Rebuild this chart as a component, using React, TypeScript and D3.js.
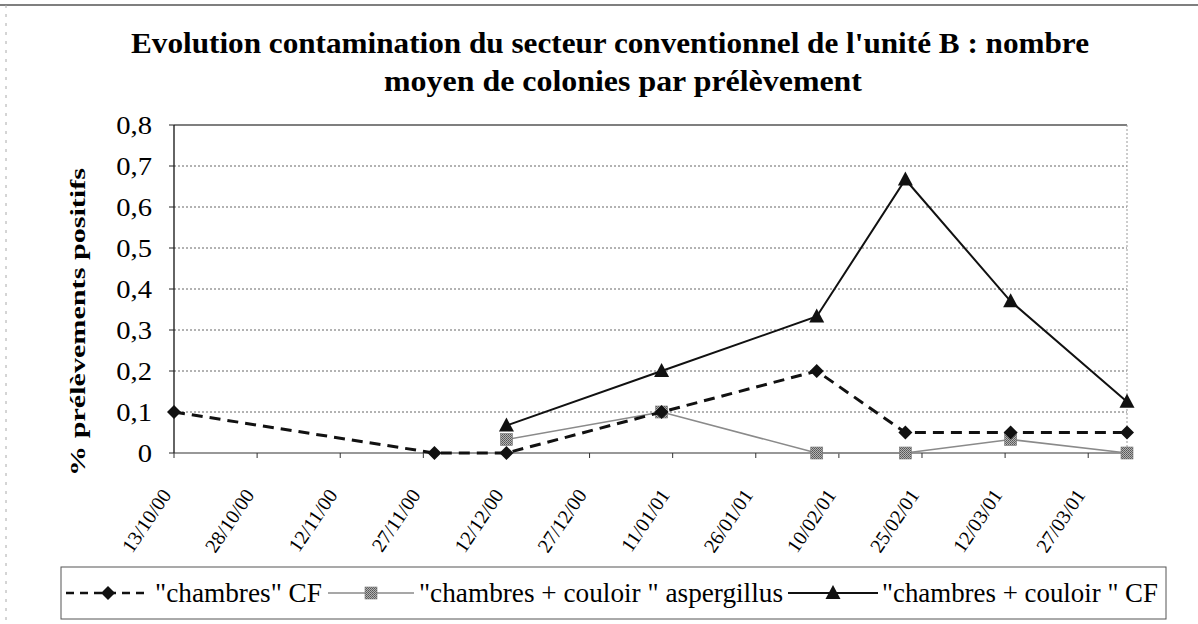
import * as d3 from "d3";

// dates de prélèvement (jj/mm/aa)
const sampleDates = ["13/10/00", "29/11/00", "12/12/00", "09/01/01", "06/02/01", "22/02/01", "13/03/01", "03/04/01"];
const chambresCF = [0.1, 0, 0, 0.1, 0.2, 0.05, 0.05, 0.05];
const couloirAspergillus = [null, null, 0.033, 0.1, 0, 0, 0.033, 0];
const couloirCF = [null, null, 0.067, 0.2, 0.333, 0.667, 0.37, 0.125];

const xTickLabels = ["13/10/00", "28/10/00", "12/11/00", "27/11/00", "12/12/00", "27/12/00", "11/01/01", "26/01/01", "10/02/01", "25/02/01", "12/03/01", "27/03/01"];
const yTicks = [0, 0.1, 0.2, 0.3, 0.4, 0.5, 0.6, 0.7, 0.8];
const seriesNames = ['"chambres" CF', '"chambres  + couloir " aspergillus', '"chambres  + couloir " CF'];

const titleLines = ["Evolution contamination du secteur conventionnel de l'unité B : nombre", "moyen de colonies par prélèvement"];
const yTitle = "% prélèvements positifs";

const W = 1198;
const H = 624;
const FONT = '"Liberation Serif", "Times New Roman", serif';

const parse = d3.utcParse("%d/%m/%y");
const dates = sampleDates.map((s) => parse(s) as Date);

const x = d3.scaleUtc().domain([dates[0], dates[dates.length - 1]]).range([174, 1127]);
const y = d3.scaleLinear().domain([0, 0.8]).range([453, 125]);

type Pt = { d: Date; v: number | null };
const toPts = (vals: (number | null)[]): Pt[] => vals.map((v, i) => ({ d: dates[i], v }));

const line = d3
  .line<Pt>()
  .defined((p) => p.v != null)
  .x((p) => x(p.d))
  .y((p) => y(p.v as number));

const diamond = "M0,-7L7,0L0,7L-7,0Z";
const triangle = "M0,-8L7.5,6L-7.5,6Z";

const fmt = (v: number) => (v === 0 ? "0" : d3.format(".1f")(v).replace(".", ","));

function Square({ cx, cy }: { cx: number; cy: number }) {
  return <rect x={cx - 6} y={cy - 6} width={12} height={12} fill="url(#dither)" stroke="#777" strokeWidth={0.6} />;
}

export default function App() {
  const s1 = toPts(chambresCF);
  const s2 = toPts(couloirAspergillus);
  const s3 = toPts(couloirCF);
  const [x0, x1] = x.range();

  return (
    <svg width={W} height={H} style={{ display: "block", position: "absolute", left: 0, top: 0, background: "#fff" }}>
      <defs>
        <pattern id="dither" width="2" height="2" patternUnits="userSpaceOnUse">
          <rect width="2" height="2" fill="#b4b4b4" />
          <rect width="1" height="1" fill="#555" />
          <rect x="1" y="1" width="1" height="1" fill="#666" />
        </pattern>
      </defs>

      {/* cadre du graphique (scan) */}
      <line x1={0} x2={W} y1={5} y2={5} stroke="#555" strokeWidth={1.5} />
      <line x1={6} x2={6} y1={5} y2={H} stroke="#aaa" strokeWidth={1} strokeDasharray="3,6" />

      {/* titre */}
      <text x={131} y={53} fontFamily={FONT} fontWeight="bold" fontSize={30} textLength={958} lengthAdjust="spacingAndGlyphs">
        {titleLines[0]}
      </text>
      <text x={384} y={91} fontFamily={FONT} fontWeight="bold" fontSize={30} textLength={478} lengthAdjust="spacingAndGlyphs">
        {titleLines[1]}
      </text>

      {/* grille */}
      {yTicks.slice(1, -1).map((t) => (
        <line key={t} x1={x0} x2={x1} y1={y(t)} y2={y(t)} stroke="#666" strokeWidth={1} strokeDasharray="2,2" />
      ))}
      <line x1={x0} x2={x1} y1={y(0.8)} y2={y(0.8)} stroke="#555" strokeWidth={1.3} />
      <line x1={x1} x2={x1} y1={y(0.8)} y2={y(0)} stroke="#999" strokeWidth={1} strokeDasharray="2,2" />

      {/* axe Y */}
      <line x1={x0} x2={x0} y1={y(0.8)} y2={y(0)} stroke="#111" strokeWidth={1.3} />
      {yTicks.map((t) => (
        <g key={t}>
          <line x1={x0 - 5} x2={x0} y1={y(t)} y2={y(t)} stroke="#222" />
          <text
            x={152}
            y={y(t) + 9}
            textAnchor="end"
            fontFamily={FONT}
            fontSize={26}
            transform={`translate(152,0) scale(1.1,1) translate(-152,0)`}
          >
            {fmt(t)}
          </text>
        </g>
      ))}
      <text
        transform={`translate(85,${322}) rotate(-90)`}
        textAnchor="middle"
        fontFamily={FONT}
        fontWeight="bold"
        fontSize={22}
        textLength={308}
        lengthAdjust="spacingAndGlyphs"
      >
        {yTitle}
      </text>

      {/* axe X */}
      <line x1={x0} x2={x1} y1={y(0)} y2={y(0)} stroke="#333" strokeWidth={1.2} />
      {xTickLabels.map((lab) => {
        const tx = x(parse(lab) as Date);
        return (
          <g key={lab}>
            <line x1={tx} x2={tx} y1={y(0)} y2={y(0) + 5} stroke="#333" />
            <text
              transform={`translate(${tx - 2},${495}) rotate(-56)`}
              textAnchor="end"
              fontFamily={FONT}
              fontSize={20}
            >
              {lab}
            </text>
          </g>
        );
      })}

      {/* séries */}
      <path d={line(s2) ?? ""} fill="none" stroke="#8a8a8a" strokeWidth={1.6} />
      {s2.filter((p) => p.v != null).map((p, i) => (
        <Square key={i} cx={x(p.d)} cy={y(p.v as number)} />
      ))}

      <path d={line(s1) ?? ""} fill="none" stroke="#111" strokeWidth={3} strokeDasharray="11,7" />
      {s1.map((p, i) => (
        <path key={i} d={diamond} transform={`translate(${x(p.d)},${y(p.v as number)})`} fill="#111" />
      ))}

      <path d={line(s3) ?? ""} fill="none" stroke="#111" strokeWidth={2} />
      {s3.filter((p) => p.v != null).map((p, i) => (
        <path key={i} d={triangle} transform={`translate(${x(p.d)},${y(p.v as number)})`} fill="#111" />
      ))}

      {/* légende */}
      <rect x={61} y={567} width={1105} height={52} fill="none" stroke="#555" strokeWidth={1} />
      <line x1={66} x2={150} y1={593} y2={593} stroke="#111" strokeWidth={2.5} strokeDasharray="8,6" />
      <path d={diamond} transform="translate(108,593)" fill="#111" />
      <text x={155} y={602} fontFamily={FONT} fontSize={27} textLength={167} lengthAdjust="spacingAndGlyphs">
        {seriesNames[0]}
      </text>

      <line x1={328} x2={414} y1={593} y2={593} stroke="#8a8a8a" strokeWidth={1.6} />
      <Square cx={371} cy={593} />
      <text x={419} y={602} fontFamily={FONT} fontSize={27} textLength={364} lengthAdjust="spacingAndGlyphs">
        {seriesNames[1]}
      </text>

      <line x1={788} x2={878} y1={593} y2={593} stroke="#111" strokeWidth={2} />
      <path d={triangle} transform="translate(833,593)" fill="#111" />
      <text x={882} y={602} fontFamily={FONT} fontSize={27} textLength={276} lengthAdjust="spacingAndGlyphs">
        {seriesNames[2]}
      </text>
    </svg>
  );
}
